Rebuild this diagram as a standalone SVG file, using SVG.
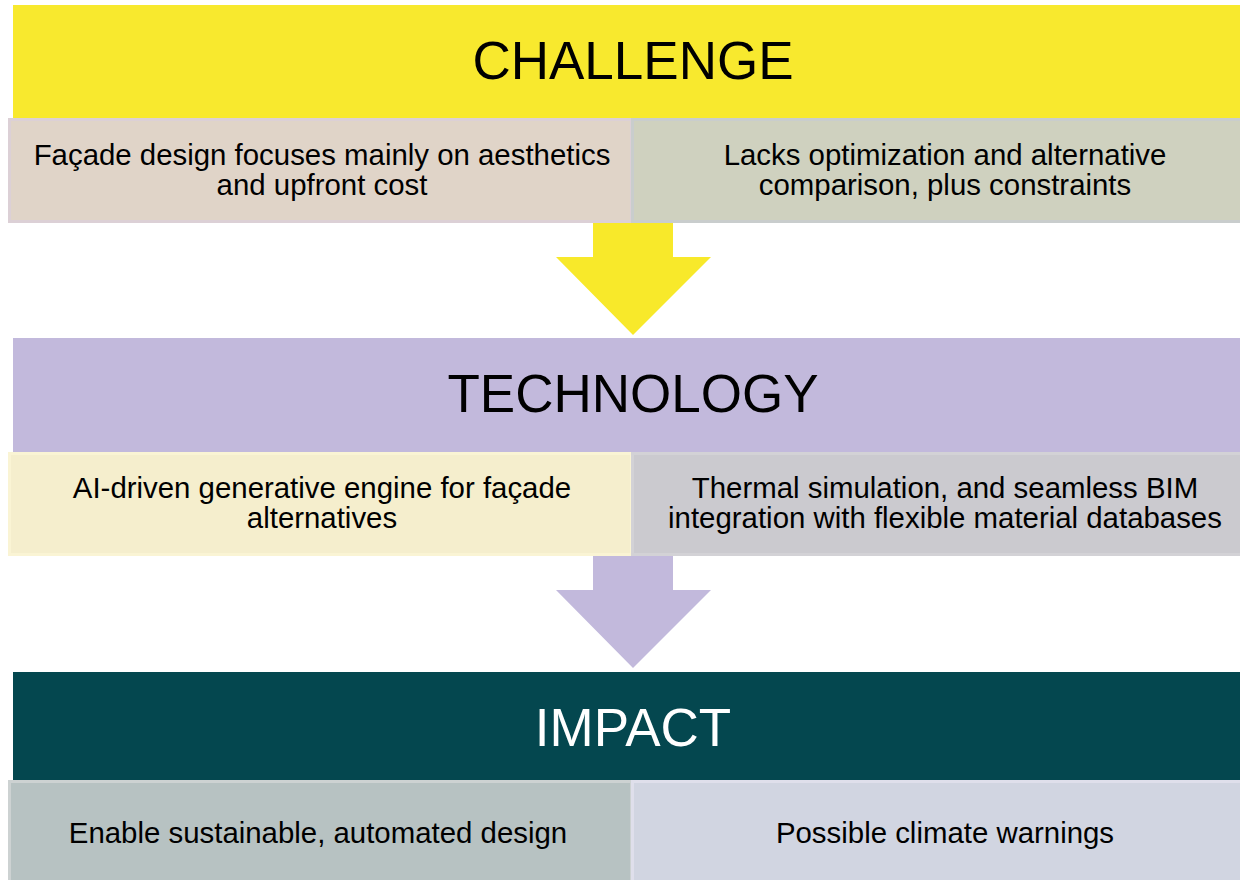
<svg xmlns="http://www.w3.org/2000/svg" width="1240" height="880" viewBox="0 0 1240 880">
<style>
.hdr{font-family:"Liberation Sans",Arial,sans-serif;font-size:53px;text-anchor:middle}
.sub{font-family:"Liberation Sans",Arial,sans-serif;font-size:29.4px;text-anchor:middle;fill:#000}
.box{stroke-width:3}
</style>
<rect width="1240" height="880" fill="#ffffff"/>
<g id="connectors">
<polygon points="593,222 673,222 673,257 711,257 633,335 556,257 593,257" fill="#f8e92a"/>
<polygon points="593,555 673,555 673,590 711,590 633,668 556,590 593,590" fill="#c2b9dc"/>
</g>
<g id="challenge">
<rect x="13" y="5" width="1227" height="113" fill="#f8e92e"/>
<text class="hdr" x="633" y="79" fill="#000">CHALLENGE</text>
</g>
<g id="challenge-left">
<rect class="box" x="9.5" y="119.5" width="622" height="102" fill="#e0d4c8" stroke="#dcd0d6"/>
<text class="sub" x="322" y="165">Façade design focuses mainly on aesthetics</text>
<text class="sub" x="322" y="195">and upfront cost</text>
</g>
<g id="challenge-right">
<rect class="box" x="632.5" y="119.5" width="609" height="102" fill="#cfd1bf" stroke="#c9cdcd"/>
<text class="sub" x="945" y="165">Lacks optimization and alternative</text>
<text class="sub" x="945" y="195">comparison, plus constraints</text>
</g>
<g id="technology">
<rect x="13" y="338" width="1227" height="114" fill="#c2b9dc"/>
<text class="hdr" x="633" y="412" fill="#000">TECHNOLOGY</text>
</g>
<g id="technology-left">
<rect class="box" x="9.5" y="453.5" width="622" height="101" fill="#f5eecd" stroke="#faf4d4"/>
<text class="sub" x="322" y="498">AI-driven generative engine for façade</text>
<text class="sub" x="322" y="528">alternatives</text>
</g>
<g id="technology-right">
<rect class="box" x="632.5" y="453.5" width="609" height="101" fill="#cbcacf" stroke="#d3d2d6"/>
<text class="sub" x="945" y="498">Thermal simulation, and seamless BIM</text>
<text class="sub" x="945" y="528">integration with flexible material databases</text>
</g>
<g id="impact">
<rect x="13" y="672" width="1227" height="108" fill="#04474f"/>
<text class="hdr" x="633" y="746" fill="#ffffff">IMPACT</text>
</g>
<g id="impact-left">
<rect class="box" x="9.5" y="781.5" width="622" height="101" fill="#b7c2c2" stroke="#cdd2d2"/>
<text class="sub" x="318" y="843">Enable sustainable, automated design</text>
</g>
<g id="impact-right">
<rect class="box" x="632.5" y="781.5" width="609" height="101" fill="#d1d5e1" stroke="#dfdfeb"/>
<text class="sub" x="945" y="843">Possible climate warnings</text>
</g>
</svg>
